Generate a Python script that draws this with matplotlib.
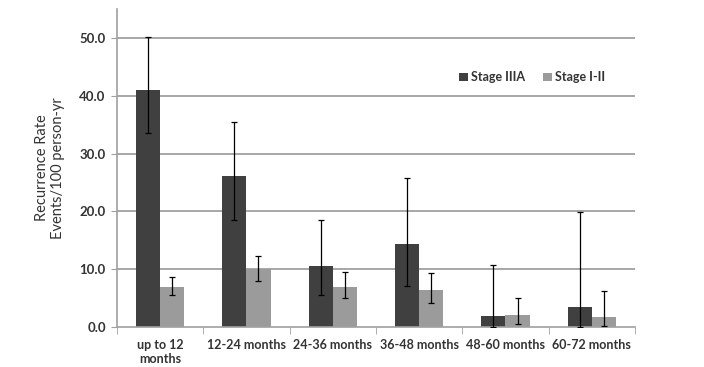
import numpy as np
import matplotlib.pyplot as plt

plt.rcParams['font.family'] = ['Lato', 'DejaVu Sans']

categories = ['up to 12\nmonths', '12-24 months', '24-36 months', '36-48 months', '48-60 months', '60-72 months']
stage3a = [41.0, 26.1, 10.6, 14.3, 1.9, 3.5]
stage3a_lo = [33.5, 18.6, 5.5, 7.1, 0.0, 0.0]
stage3a_hi = [50.1, 35.5, 18.5, 25.7, 10.7, 19.9]
stage12 = [6.9, 10.0, 7.0, 6.4, 2.1, 1.7]
stage12_lo = [5.5, 8.0, 5.1, 4.1, 0.6, 0.2]
stage12_hi = [8.7, 12.3, 9.5, 9.4, 5.0, 6.2]

dark = '#404040'
light = '#9b9b9b'
grid = '#a0a0a0'

fig = plt.figure(figsize=(7.04, 3.67), dpi=100)
ax = fig.add_axes([0.166, 0.109, 0.736, 0.866])

x = np.arange(len(categories))
w = 0.28
s3 = np.array(stage3a)
s1 = np.array(stage12)
err3 = [s3 - np.array(stage3a_lo), np.array(stage3a_hi) - s3]
err1 = [s1 - np.array(stage12_lo), np.array(stage12_hi) - s1]

ax.bar(x - w / 2, s3, w, color=dark, label='Stage IIIA', zorder=2)
ax.bar(x + w / 2, s1, w, color=light, label='Stage I-II', zorder=2)
ax.errorbar(x - w / 2, s3, yerr=err3, fmt='none', ecolor='black', elinewidth=0.9, capsize=2.5, capthick=0.9, zorder=3)
ax.errorbar(x + w / 2, s1, yerr=err1, fmt='none', ecolor='black', elinewidth=0.9, capsize=2.5, capthick=0.9, zorder=3)

ax.set_xlim(-0.5, len(categories) - 0.5)
ax.set_ylim(0, 55)
ax.set_yticks(np.arange(0, 51, 10))
ax.set_yticklabels(['%.1f' % v for v in np.arange(0, 51, 10)], fontsize=9.5, fontweight='bold', color='#333333')
for v in np.arange(10, 51, 10):
    ax.axhline(v, color=grid, lw=1.3, zorder=1)

ax.set_xticks(x)
ax.set_xticklabels(categories, fontsize=9, fontweight='bold', color='#333333')
ax.tick_params(axis='x', which='major', length=0, pad=9)
ax.set_xticks(np.arange(-0.5, len(categories), 1), minor=True)
ax.tick_params(axis='x', which='minor', length=5, color=grid, direction='out')
ax.tick_params(axis='y', length=4, color=grid, pad=4)

for side in ['top', 'right']:
    ax.spines[side].set_visible(False)
ax.spines['left'].set_color(grid)
ax.spines['bottom'].set_color(grid)
ax.spines['left'].set_linewidth(1.2)
ax.spines['bottom'].set_linewidth(1.2)

ax.set_ylabel('Recurrence Rate\nEvents/100 person-yr', fontsize=10.5, color='#333333', labelpad=10)

leg = ax.legend(loc='upper right', bbox_to_anchor=(0.965, 0.84), ncol=2, frameon=False,
                fontsize=9, handlelength=0.7, handleheight=0.7, handletextpad=0.3, columnspacing=1.4)
for t in leg.get_texts():
    t.set_fontweight('bold')
    t.set_color('#333333')

fig.savefig('out.png', dpi=100)
